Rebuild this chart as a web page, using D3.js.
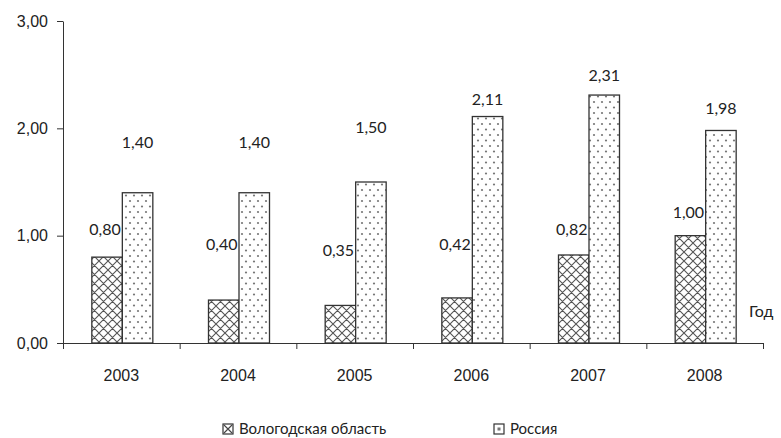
<!DOCTYPE html>
<html>
<head>
<meta charset="UTF-8" />
<script src="https://d3js.org/d3.v7.min.js"></script>
<title>Вологодская область и Россия</title>
<style>
  body { margin: 0; background: #fff; }
  svg { display: block; font-family: Lato, "Open Sans", sans-serif; }
  .axis path, .axis line { stroke: #333; }
  .axis text { fill: #222; font-size: 16px; }
</style>
</head>
<body>
<div id="chart"></div>
<script>
const years = ["2003", "2004", "2005", "2006", "2007", "2008"];
const vologda = [0.80, 0.40, 0.35, 0.42, 0.82, 1.00];
const russia = [1.40, 1.40, 1.50, 2.11, 2.31, 1.98];
const yTicks = [0, 1, 2, 3];
const seriesNames = ["Вологодская область", "Россия"];
// label gaps above bar tops (labels were hand placed in the original)
const vologdaGap = [28, 56, 55, 54, 26, 23];
const russiaGap = [50, 50, 55, 17, 20, 22];

const W = 781, H = 438;
const mLeft = 63, mRight = 763, mTop = 21, mBottom = 343;
const barW = 30.5;

const svg = d3.select("#chart").append("svg").attr("width", W).attr("height", H);

const defs = svg.append("defs");
const hatch = defs.append("pattern").attr("id", "hatch")
  .attr("patternUnits", "userSpaceOnUse").attr("width", 9).attr("height", 9);
hatch.append("rect").attr("width", 9).attr("height", 9).attr("fill", "#fff");
hatch.append("path").attr("d", "M0,0L9,9M9,0L0,9M-1,8L1,10M8,-1L10,1M-1,1L1,-1M8,10L10,8")
  .attr("stroke", "#555").attr("stroke-width", 1.1);
const dots = defs.append("pattern").attr("id", "dots")
  .attr("patternUnits", "userSpaceOnUse").attr("width", 8).attr("height", 11);
dots.append("rect").attr("width", 8).attr("height", 11).attr("fill", "#fff");
dots.append("circle").attr("cx", 2).attr("cy", 3).attr("r", 1.1).attr("fill", "#777");
dots.append("circle").attr("cx", 6).attr("cy", 8.5).attr("r", 1.1).attr("fill", "#777");

const x = d3.scaleBand().domain(years).range([mLeft, mRight]);
const xi = d3.scaleLinear().domain([0, years.length]).range([mLeft, mRight]);
const y = d3.scaleLinear().domain([0, 3]).range([mBottom, mTop]);
const fmt = d => d3.format(".2f")(d).replace(".", ",");

// y axis
svg.append("g").attr("class", "axis").attr("transform", `translate(${mLeft},0)`)
  .call(d3.axisLeft(y).tickValues(yTicks).tickFormat(fmt).tickSize(6).tickPadding(9).tickSizeOuter(0));

// x axis boundary ticks
svg.append("g").attr("class", "axis").attr("transform", `translate(0,${mBottom})`)
  .call(d3.axisBottom(xi).tickValues(d3.range(years.length + 1)).tickFormat("").tickSize(6).tickSizeOuter(0));

// x labels
const xl = svg.append("g").attr("class", "axis").attr("transform", `translate(0,${mBottom})`)
  .call(d3.axisBottom(x).tickSize(0).tickPadding(27));
xl.select(".domain").remove();

const g = svg.append("g");
const cx = d => x(d) + x.bandwidth() / 2 + 1;

g.selectAll(".v").data(years).join("rect").attr("class", "v")
  .attr("x", d => cx(d) - barW).attr("width", barW)
  .attr("y", (d, i) => y(vologda[i])).attr("height", (d, i) => mBottom - y(vologda[i]))
  .attr("fill", "url(#hatch)").attr("stroke", "#333").attr("stroke-width", 1.3);
g.selectAll(".r").data(years).join("rect").attr("class", "r")
  .attr("x", d => cx(d)).attr("width", barW)
  .attr("y", (d, i) => y(russia[i])).attr("height", (d, i) => mBottom - y(russia[i]))
  .attr("fill", "url(#dots)").attr("stroke", "#333").attr("stroke-width", 1.3);

g.selectAll(".vl").data(years).join("text").attr("class", "vl")
  .attr("x", d => cx(d) - barW / 2 - 2).attr("y", (d, i) => y(vologda[i]) - vologdaGap[i])
  .attr("dy", "0.35em").attr("text-anchor", "middle").attr("font-size", 16).attr("fill", "#222")
  .text((d, i) => fmt(vologda[i]));
g.selectAll(".rl").data(years).join("text").attr("class", "rl")
  .attr("x", d => cx(d) + barW / 2).attr("y", (d, i) => y(russia[i]) - russiaGap[i])
  .attr("dy", "0.35em").attr("text-anchor", "middle").attr("font-size", 16).attr("fill", "#222")
  .text((d, i) => fmt(russia[i]));

svg.append("text").attr("x", 749).attr("y", 311).attr("dy", "0.35em")
  .attr("font-size", 16).attr("fill", "#222").text("Год");

// legend
const legX = [223, 494];
const leg = svg.selectAll(".leg").data(seriesNames).join("g").attr("class", "leg")
  .attr("transform", (d, i) => `translate(${legX[i]},424)`);
leg.append("rect").attr("width", 10).attr("height", 10).attr("fill", "#fff")
  .attr("stroke", "#333").attr("stroke-width", 1.2);
leg.filter((d, i) => i === 0).append("path").attr("d", "M1,1L9,9M9,1L1,9")
  .attr("stroke", "#444").attr("stroke-width", 1.1);
leg.filter((d, i) => i === 1).append("rect").attr("x", 3.5).attr("y", 3.5)
  .attr("width", 3).attr("height", 3).attr("fill", "#777");
leg.append("text").attr("x", 16).attr("y", 5).attr("dy", "0.35em")
  .attr("font-size", 15).attr("fill", "#222").text(d => d);
</script>
</body>
</html>
